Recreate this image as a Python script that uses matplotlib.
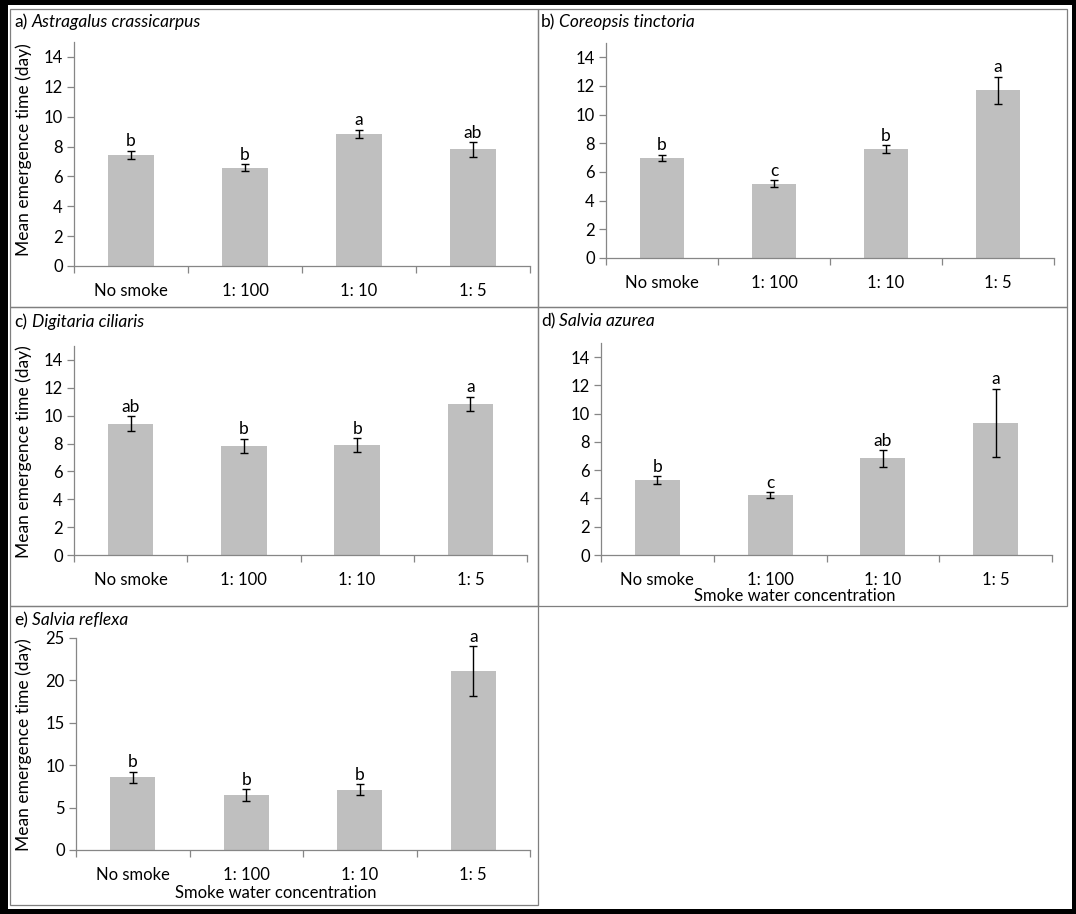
"""
Mean emergence time of five species under smoke water treatments.
"""

import matplotlib.pyplot as plt
from matplotlib.patches import Rectangle

# ---- data -------------------------------------------------------------
treatments = ["No smoke", "1: 100", "1: 10", "1: 5"]

species = [
    "Astragalus crassicarpus",
    "Coreopsis tinctoria",
    "Digitaria ciliaris",
    "Salvia azurea",
    "Salvia reflexa",
]
panel_tags = ["a)", "b)", "c)", "d)", "e)"]

astragalus_mean = [7.45, 6.58, 8.83, 7.82]
astragalus_err = [0.27, 0.25, 0.29, 0.49]
astragalus_letters = ["b", "b", "a", "ab"]

coreopsis_mean = [7.0, 5.17, 7.62, 11.71]
coreopsis_err = [0.2, 0.25, 0.27, 0.94]
coreopsis_letters = ["b", "c", "b", "a"]

digitaria_mean = [9.42, 7.84, 7.88, 10.84]
digitaria_err = [0.53, 0.52, 0.52, 0.51]
digitaria_letters = ["ab", "b", "b", "a"]

azurea_mean = [5.3, 4.23, 6.83, 9.36]
azurea_err = [0.28, 0.22, 0.6, 2.41]
azurea_letters = ["b", "c", "ab", "a"]

reflexa_mean = [8.6, 6.5, 7.13, 21.1]
reflexa_err = [0.65, 0.67, 0.63, 2.95]
reflexa_letters = ["b", "b", "b", "a"]

y_max = [15, 15, 15, 15, 25]
y_step = [2, 2, 2, 2, 5]

# ---- layout (pixels) --------------------------------------------------
W, H = 1076, 914
FONT = "Lato"
GRAY = "#868686"
BAR = "#bfbfbf"


def fx(px):
    return px / W


def fy(py):
    return 1 - py / H


def add_box(fig, x0, y0, x1, y1, **kw):
    fig.patches.append(
        Rectangle((fx(x0), fy(y1)), fx(x1) - fx(x0), fy(y0) - fy(y1),
                  transform=fig.transFigure, **kw)
    )


def draw_panel(fig, box, means, errs, letters, ymax, ystep, tag, name,
               title_xy, ylab_xy, xlab_xy):
    x0, top, x1, zero = box
    ax = fig.add_axes([fx(x0), fy(zero), fx(x1) - fx(x0), fy(top) - fy(zero)])
    ax.set_zorder(3)
    pos = list(range(len(treatments)))

    ax.bar(pos, means, width=0.4, color=BAR, zorder=2)
    ax.errorbar(pos, means, yerr=errs, fmt="none", ecolor="black",
                elinewidth=1, capsize=3, capthick=1, zorder=3)

    for p, m, e, lab in zip(pos, means, errs, letters):
        ax.annotate(lab, (p, m + e), xytext=(0, 1), textcoords="offset points",
                    ha="center", va="bottom", fontsize=12.5, family=FONT)

    ax.set_xlim(-0.5, len(treatments) - 0.5)
    ax.set_ylim(0, ymax)
    ax.set_yticks(range(0, ymax + 1, ystep))
    ax.set_xticks(pos)
    ax.set_xticklabels(treatments)
    ax.set_xticks([p - 0.5 for p in range(len(treatments) + 1)], minor=True)

    for side in ["top", "right"]:
        ax.spines[side].set_visible(False)
    for side in ["left", "bottom"]:
        ax.spines[side].set_color(GRAY)
        ax.spines[side].set_linewidth(0.9)

    ax.tick_params(axis="x", which="major", length=0, pad=12)
    ax.tick_params(axis="x", which="minor", length=5, color=GRAY, width=0.9)
    ax.tick_params(axis="y", length=5, color=GRAY, width=0.9, pad=3)
    for lab in ax.get_xticklabels() + ax.get_yticklabels():
        lab.set_fontsize(12)
        lab.set_family(FONT)
    ax.set_facecolor("none")

    fig.text(fx(title_xy[0]), fy(title_xy[1]), tag, fontsize=12.5,
             family=FONT, ha="left", va="center", zorder=4)
    fig.text(fx(title_xy[0] + 18), fy(title_xy[1]), name, fontsize=12.5,
             family=FONT, style="italic", ha="left", va="center", zorder=4)
    if ylab_xy is not None:
        fig.text(fx(ylab_xy[0]), fy(ylab_xy[1]), "Mean emergence time (day)",
                 rotation=90, fontsize=12.5, family=FONT,
                 ha="center", va="center", zorder=4)
    if xlab_xy is not None:
        fig.text(fx(xlab_xy[0]), fy(xlab_xy[1]), "Smoke water concentration",
                 fontsize=12, family=FONT, ha="center", va="center", zorder=4)
    return ax


def main() -> None:
    fig = plt.figure(figsize=(W / 100, H / 100), dpi=100, facecolor="black")

    # white sheet inside the black frame
    add_box(fig, 8, 5, 1072, 909, facecolor="white", edgecolor="none",
            zorder=-10)

    # panel borders
    frames = [
        (10, 9, 538, 307),
        (538, 9, 1067, 307),
        (10, 307, 538, 606),
        (538, 307, 1067, 606),
        (10, 606, 538, 905),
    ]
    for f in frames:
        add_box(fig, *f, facecolor="none", edgecolor="#7f7f7f", linewidth=0.9,
                zorder=5)

    means = [astragalus_mean, coreopsis_mean, digitaria_mean,
             azurea_mean, reflexa_mean]
    errs = [astragalus_err, coreopsis_err, digitaria_err,
            azurea_err, reflexa_err]
    letters = [astragalus_letters, coreopsis_letters, digitaria_letters,
               azurea_letters, reflexa_letters]

    boxes = [
        (74, 42, 530, 266),
        (606, 43, 1054, 258),
        (74, 346, 527, 555),
        (601, 343, 1052, 555),
        (76, 638, 530, 850),
    ]
    titles = [(14, 22), (541, 22), (14, 322), (541, 321), (14, 620)]
    ylabs = [(24, 150), None, (24, 452), None, (24, 745)]
    xlabs = [None, None, None, (795, 596), (276, 893)]

    for i in range(5):
        draw_panel(fig, boxes[i], means[i], errs[i], letters[i],
                   y_max[i], y_step[i], panel_tags[i], species[i],
                   titles[i], ylabs[i], xlabs[i])

    fig.savefig("out.png", dpi=100, facecolor="black")


if __name__ == "__main__":
    main()
